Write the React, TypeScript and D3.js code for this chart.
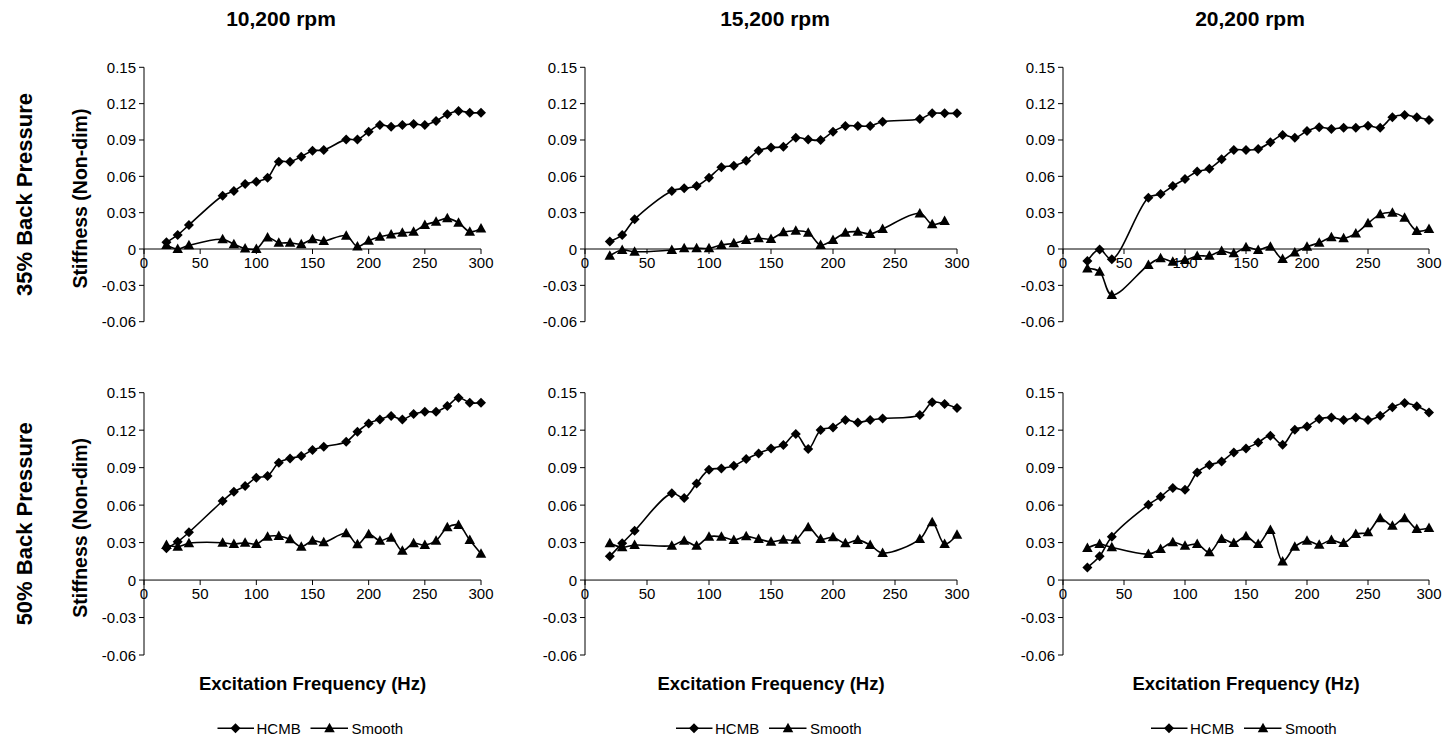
import React from 'react';
import * as d3 from 'd3';

// ---------- data ----------
const colTitles = ['10,200 rpm', '15,200 rpm', '20,200 rpm'];
const rowLabels = ['35% Back Pressure', '50% Back Pressure'];
const yAxisTitle = 'Stiffness (Non-dim)';
const xAxisTitle = 'Excitation Frequency (Hz)';
const seriesNames = ['HCMB', 'Smooth'];

const yTicks = [-0.06, -0.03, 0, 0.03, 0.06, 0.09, 0.12, 0.15];
const yTickLabels = ['-0.06', '-0.03', '0', '0.03', '0.06', '0.09', '0.12', '0.15'];
const xTicks = [0, 50, 100, 150, 200, 250, 300];

// frequency sets
const freqA = [20, 30, 40, 70, 80, 90, 100, 110, 120, 130, 140, 150, 160, 180, 190, 200, 210, 220, 230, 240, 250, 260, 270, 280, 290, 300];
const freqB = [20, 30, 40, 70, 80, 90, 100, 110, 120, 130, 140, 150, 160, 170, 180, 190, 200, 210, 220, 230, 240, 270, 280, 290, 300];
const freqB2 = [20, 30, 40, 70, 80, 90, 100, 110, 120, 130, 140, 150, 160, 170, 180, 190, 200, 210, 220, 230, 240, 270, 280, 290];
const freqC = [20, 30, 40, 70, 80, 90, 100, 110, 120, 130, 140, 150, 160, 170, 180, 190, 200, 210, 220, 230, 240, 250, 260, 270, 280, 290, 300];

// 35% back pressure
const hcmb35_10200 = [0.0055, 0.0116, 0.0198, 0.044, 0.0479, 0.0537, 0.0556, 0.0589, 0.0721, 0.0721, 0.0762, 0.0812, 0.0817, 0.0905, 0.0905, 0.0969, 0.1024, 0.101, 0.1024, 0.1032, 0.1024, 0.1057, 0.1112, 0.1139, 0.1125, 0.1125];
const smooth35_10200 = [0.0033, 0, 0.003, 0.008, 0.004, 0.0005, 0, 0.0094, 0.0052, 0.0052, 0.004, 0.008, 0.0066, 0.011, 0.002, 0.0069, 0.0102, 0.012, 0.0135, 0.0143, 0.0198, 0.0226, 0.0253, 0.0217, 0.0143, 0.017];
const hcmb35_15200 = [0.0061, 0.0116, 0.0245, 0.0479, 0.0501, 0.052, 0.0589, 0.0674, 0.0688, 0.0729, 0.0812, 0.0837, 0.0845, 0.0919, 0.0905, 0.09, 0.0969, 0.1016, 0.1016, 0.1016, 0.1051, 0.1073, 0.112, 0.112, 0.112];
const smooth35_15200 = [-0.0055, -0.0008, -0.0022, -0.0008, 0.0006, 0.0006, 0.0006, 0.0033, 0.0047, 0.0074, 0.0088, 0.0083, 0.0138, 0.0151, 0.0135, 0.0033, 0.0074, 0.0135, 0.0143, 0.0124, 0.0165, 0.0294, 0.0204, 0.0231];
const hcmb35_20200 = [-0.0099, -0.0003, -0.0085, 0.0424, 0.0454, 0.052, 0.0578, 0.0639, 0.0663, 0.074, 0.0817, 0.0817, 0.0826, 0.0881, 0.0941, 0.0919, 0.0974, 0.1005, 0.0991, 0.1002, 0.1002, 0.1018, 0.1002, 0.1087, 0.1106, 0.1087, 0.1065];
const smooth35_20200 = [-0.016, -0.0187, -0.038, -0.0132, -0.0077, -0.0105, -0.0091, -0.0058, -0.0055, -0.0017, -0.0036, 0.0014, -0.0008, 0.0019, -0.0083, -0.0028, 0.0019, 0.0052, 0.0096, 0.0088, 0.0129, 0.0212, 0.0286, 0.03, 0.0259, 0.0149, 0.0165];

// 50% back pressure
const hcmb50_10200 = [0.0254, 0.0307, 0.0382, 0.0633, 0.0707, 0.0753, 0.0819, 0.0833, 0.094, 0.0974, 0.0993, 0.1041, 0.1068, 0.1108, 0.1188, 0.1254, 0.1286, 0.1313, 0.1286, 0.1329, 0.1348, 0.1348, 0.1393, 0.146, 0.142, 0.142];
const smooth50_10200 = [0.028, 0.0267, 0.0294, 0.0299, 0.0288, 0.0299, 0.0288, 0.0347, 0.0352, 0.0326, 0.0267, 0.0315, 0.0302, 0.0374, 0.0286, 0.0366, 0.0315, 0.0339, 0.0235, 0.0294, 0.028, 0.0315, 0.0422, 0.044, 0.032, 0.021];
const hcmb50_15200 = [0.019, 0.0294, 0.0395, 0.0694, 0.0657, 0.0774, 0.0883, 0.0894, 0.0915, 0.0969, 0.1014, 0.1054, 0.1081, 0.1169, 0.1049, 0.1201, 0.1222, 0.1281, 0.1262, 0.1281, 0.1294, 0.1321, 0.1423, 0.1409, 0.1377];
const smooth50_15200 = [0.0294, 0.0262, 0.028, 0.0275, 0.0315, 0.0275, 0.0347, 0.0347, 0.032, 0.035, 0.0328, 0.0307, 0.0323, 0.0323, 0.0422, 0.0328, 0.0342, 0.0294, 0.032, 0.028, 0.0216, 0.0328, 0.0462, 0.0288, 0.0363];
const hcmb50_20200 = [0.0101, 0.019, 0.0347, 0.0603, 0.0667, 0.0737, 0.0723, 0.0862, 0.0921, 0.095, 0.1022, 0.1054, 0.1102, 0.1156, 0.1084, 0.1204, 0.123, 0.1289, 0.1302, 0.1281, 0.1302, 0.1281, 0.1316, 0.1383, 0.1417, 0.1391, 0.1342];
const smooth50_20200 = [0.0256, 0.0288, 0.0262, 0.0208, 0.0248, 0.0302, 0.0275, 0.0288, 0.0222, 0.0328, 0.0296, 0.035, 0.0288, 0.04, 0.0149, 0.0267, 0.0315, 0.0283, 0.032, 0.0296, 0.0368, 0.0382, 0.0494, 0.0435, 0.0494, 0.0408, 0.0416];

type Series = { x: number[]; y: number[] };
const panels: { hcmb: Series; smooth: Series }[][] = [
  [
    { hcmb: { x: freqA, y: hcmb35_10200 }, smooth: { x: freqA, y: smooth35_10200 } },
    { hcmb: { x: freqB, y: hcmb35_15200 }, smooth: { x: freqB2, y: smooth35_15200 } },
    { hcmb: { x: freqC, y: hcmb35_20200 }, smooth: { x: freqC, y: smooth35_20200 } },
  ],
  [
    { hcmb: { x: freqA, y: hcmb50_10200 }, smooth: { x: freqA, y: smooth50_10200 } },
    { hcmb: { x: freqB, y: hcmb50_15200 }, smooth: { x: freqB, y: smooth50_15200 } },
    { hcmb: { x: freqC, y: hcmb50_20200 }, smooth: { x: freqC, y: smooth50_20200 } },
  ],
];

// ---------- layout ----------
const W = 1450;
const H = 740;
const colRanges = [[144, 481], [585, 957], [1063, 1429]];
const rowRanges = [[67.3, 321.7], [392.7, 655]];
const titleX = [281, 775, 1250];
const FONT = '"Liberation Sans", Arial, Helvetica, sans-serif';

const diamond = (cx: number, cy: number, r = 5) => `M${cx},${cy - r}L${cx + r},${cy}L${cx},${cy + r}L${cx - r},${cy}Z`;
const triangle = (cx: number, cy: number, w = 10.5, h = 9.5) =>
  `M${cx},${cy - h * 0.58}L${cx + w / 2},${cy + h * 0.42}L${cx - w / 2},${cy + h * 0.42}Z`;

function Panel({ r, c }: { r: number; c: number }) {
  const [x0, x1] = colRanges[c];
  const [yTop, yBot] = rowRanges[r];
  const x = d3.scaleLinear().domain([0, 300]).range([x0, x1]);
  const y = d3.scaleLinear().domain([-0.06, 0.15]).range([yBot, yTop]);
  const line = d3
    .line<[number, number]>()
    .x((d) => x(d[0]))
    .y((d) => y(d[1]))
    .curve(d3.curveCatmullRom.alpha(0.5));
  const p = panels[r][c];
  const hPts = p.hcmb.x.map((v, i) => [v, p.hcmb.y[i]] as [number, number]);
  const sPts = p.smooth.x.map((v, i) => [v, p.smooth.y[i]] as [number, number]);
  const y0 = y(0);
  return (
    <g>
      <line x1={x0} x2={x0} y1={yTop} y2={yBot} stroke="#000" strokeWidth={1} />
      {yTicks.map((t, i) => (
        <g key={'yt' + i}>
          <line x1={x0 - 5} x2={x0} y1={y(t)} y2={y(t)} stroke="#000" strokeWidth={1} />
          <text x={x0 - 8} y={y(t)} textAnchor="end" dominantBaseline="central" fontSize={15} fontFamily={FONT} fill="#000">
            {yTickLabels[i]}
          </text>
        </g>
      ))}
      <line x1={x0} x2={x1} y1={y0} y2={y0} stroke="#000" strokeWidth={1} />
      {xTicks.map((t) => (
        <g key={'xt' + t}>
          <line x1={x(t)} x2={x(t)} y1={y0} y2={y0 + 5} stroke="#000" strokeWidth={1} />
          <text x={x(t)} y={y0 + 13} textAnchor="middle" dominantBaseline="central" fontSize={15} fontFamily={FONT} fill="#000">
            {t}
          </text>
        </g>
      ))}
      <path d={line(sPts) || ''} fill="none" stroke="#000" strokeWidth={1.6} />
      <path d={line(hPts) || ''} fill="none" stroke="#000" strokeWidth={1.6} />
      {sPts.map((d, i) => (
        <path key={'s' + i} d={triangle(x(d[0]), y(d[1]))} fill="#000" />
      ))}
      {hPts.map((d, i) => (
        <path key={'h' + i} d={diamond(x(d[0]), y(d[1]))} fill="#000" />
      ))}
      {r === 0 && (
        <text x={titleX[c]} y={26} textAnchor="middle" fontSize={21} fontWeight="bold" fontFamily={FONT} fill="#000">
          {colTitles[c]}
        </text>
      )}
      {r === 1 && (
        <g>
          <text x={(x0 + x1) / 2} y={690} textAnchor="middle" fontSize={18.5} fontWeight="bold" fontFamily={FONT} fill="#000">
            {xAxisTitle}
          </text>
          <Legend cx={(x0 + x1) / 2} cy={728.3} />
        </g>
      )}
    </g>
  );
}

function Legend({ cx, cy }: { cx: number; cy: number }) {
  return (
    <g>
      <line x1={cx - 95} x2={cx - 58.5} y1={cy} y2={cy} stroke="#000" strokeWidth={1.6} />
      <path d={diamond(cx - 77, cy)} fill="#000" />
      <text x={cx - 56} y={cy} dominantBaseline="central" fontSize={15} fontFamily={FONT} fill="#000">
        {seriesNames[0]}
      </text>
      <line x1={cx - 2} x2={cx + 35.5} y1={cy} y2={cy} stroke="#000" strokeWidth={1.6} />
      <path d={triangle(cx + 17, cy)} fill="#000" />
      <text x={cx + 39} y={cy} dominantBaseline="central" fontSize={15} fontFamily={FONT} fill="#000">
        {seriesNames[1]}
      </text>
    </g>
  );
}

export default function App() {
  return (
    <svg width={W} height={H} viewBox={`0 0 ${W} ${H}`} style={{ position: 'absolute', left: 0, top: 0, background: '#fff' }}>
      <rect x={0} y={0} width={W} height={H} fill="#fff" />
      {[0, 1].map((r) => (
        <g key={'row' + r}>
          <text
            transform={`translate(24,${(rowRanges[r][0] + rowRanges[r][1]) / 2}) rotate(-90)`}
            textAnchor="middle"
            dominantBaseline="central"
            fontSize={22}
            fontWeight="bold"
            fontFamily={FONT}
            fill="#000"
          >
            {rowLabels[r]}
          </text>
          <text
            transform={`translate(80,${(rowRanges[r][0] + rowRanges[r][1]) / 2 + 4}) rotate(-90)`}
            textAnchor="middle"
            dominantBaseline="central"
            fontSize={19.5}
            fontWeight="bold"
            fontFamily={FONT}
            fill="#000"
          >
            {yAxisTitle}
          </text>
          {[0, 1, 2].map((c) => (
            <Panel key={'p' + r + c} r={r} c={c} />
          ))}
        </g>
      ))}
    </svg>
  );
}
